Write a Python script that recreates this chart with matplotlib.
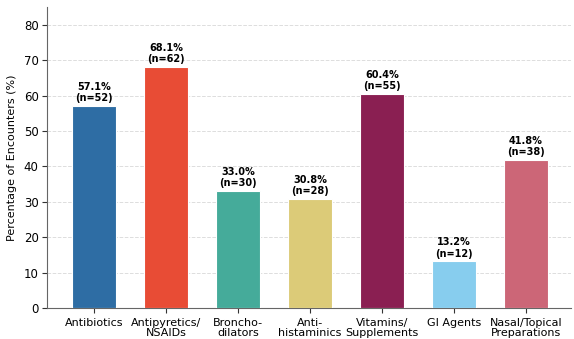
import matplotlib.pyplot as plt
import numpy as np

categories = ["Antibiotics", "Antipyretics/\nNSAIDs", "Broncho-\ndilators", "Anti-\nhistaminics",
              "Vitamins/\nSupplements", "GI Agents", "Nasal/Topical\nPreparations"]
percents = [57.1, 68.1, 33.0, 30.8, 60.4, 13.2, 41.8]
counts = [52, 62, 30, 28, 55, 12, 38]
colors = ["#2e6da4", "#e84c35", "#45ab9a", "#dccb78", "#8a1f52", "#87cdee", "#cc6677"]

fig = plt.figure(figsize=(5.74, 3.39), dpi=100)
ax = fig.add_axes([0.082, 0.091, 0.912, 0.888])

x = np.arange(len(categories))
ax.bar(x, percents, width=0.62, color=colors, edgecolor="white", linewidth=0.8, zorder=3)

# percentage + count above each bar
for xi, p, n in zip(x, percents, counts):
    ax.text(xi, p + 0.8, f"{p:.1f}%\n(n={n})", ha="center", va="bottom",
            fontsize=7, fontweight="bold", linespacing=1.15)

ax.set_xticks(x)
ax.set_xticklabels(categories, fontsize=8, linespacing=1.05)
ax.set_xlim(-0.65, 6.62)
ax.set_ylim(0, 85)
ax.set_yticks(range(0, 81, 10))
ax.tick_params(axis="y", labelsize=8.5, pad=2.5, colors="#333333", labelcolor="black")
ax.tick_params(axis="x", colors="#333333", labelcolor="black")
ax.set_ylabel("Percentage of Encounters (%)", fontsize=8, labelpad=5)

ax.grid(axis="y", linestyle="--", color="#dddddd", linewidth=0.7, zorder=0)
ax.spines["top"].set_visible(False)
ax.spines["right"].set_visible(False)
ax.spines["left"].set_color("#666666")
ax.spines["bottom"].set_color("#666666")

fig.savefig("out.png", dpi=100)
